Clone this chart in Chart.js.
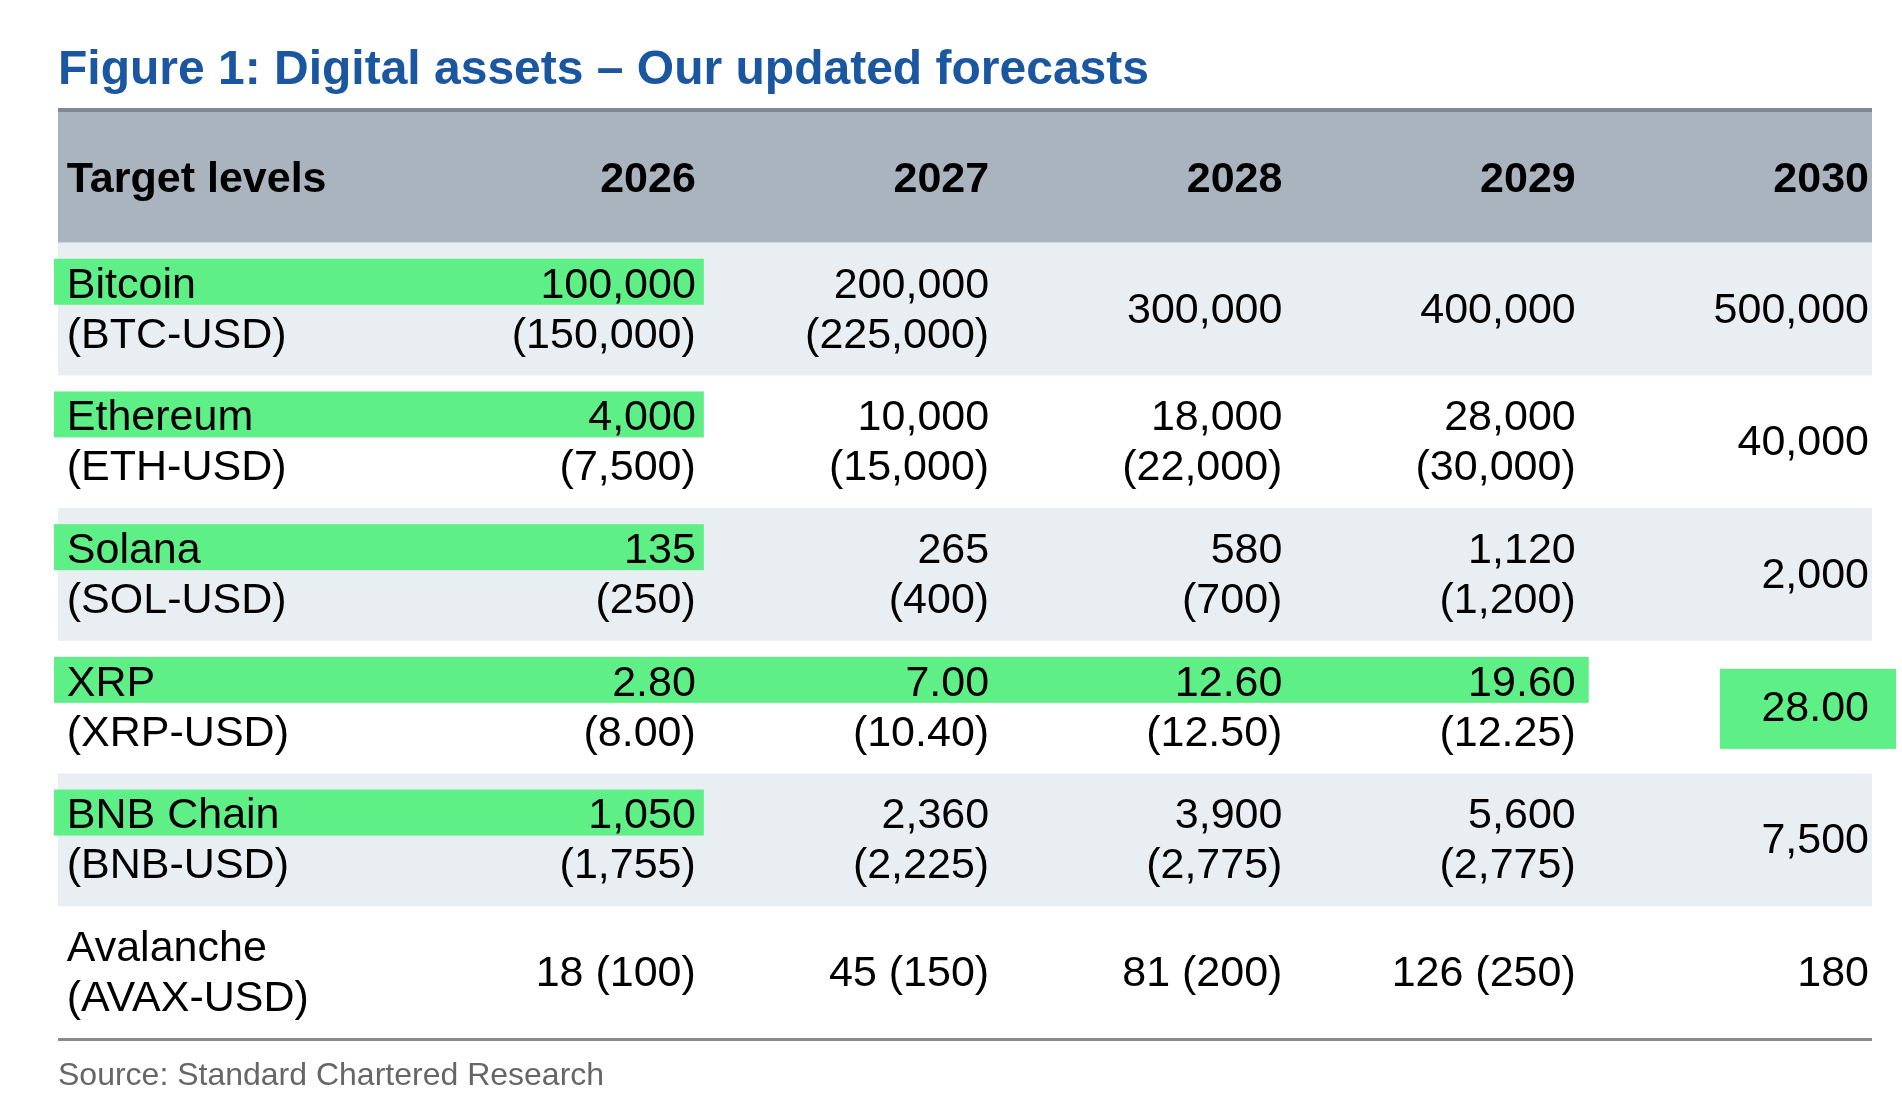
<!DOCTYPE html>
<html><head><meta charset="utf-8">
<script src="https://cdn.jsdelivr.net/npm/chart.js@4/dist/chart.umd.min.js"></script>
<style>html,body{margin:0;padding:0;background:#fff}#wrap{width:1902px;height:1104px}</style>
</head><body><div id="wrap"><canvas id="c"></canvas></div>
<script>
const title = "Figure 1: Digital assets – Our updated forecasts";
const headerLabel = "Target levels";
const years = ["2026","2027","2028","2029","2030"];
const assets = ["Bitcoin","Ethereum","Solana","XRP","BNB Chain","Avalanche"];
const tickers = ["(BTC-USD)","(ETH-USD)","(SOL-USD)","(XRP-USD)","(BNB-USD)","(AVAX-USD)"];
const targets = [
  ["100,000","200,000","300,000","400,000","500,000"],
  ["4,000","10,000","18,000","28,000","40,000"],
  ["135","265","580","1,120","2,000"],
  ["2.80","7.00","12.60","19.60","28.00"],
  ["1,050","2,360","3,900","5,600","7,500"],
  ["18","45","81","126","180"]
];
const previous = [
  ["(150,000)","(225,000)",null,null,null],
  ["(7,500)","(15,000)","(22,000)","(30,000)",null],
  ["(250)","(400)","(700)","(1,200)",null],
  ["(8.00)","(10.40)","(12.50)","(12.25)",null],
  ["(1,755)","(2,225)","(2,775)","(2,775)",null],
  ["(100)","(150)","(200)","(250)",null]
];
const inlineRows = ["Avalanche"];
const highlightFirstLine = { "Bitcoin":1, "Ethereum":1, "Solana":1, "XRP":4, "BNB Chain":1 };
const highlightBox = { "XRP":[4] };
const source = "Source: Standard Chartered Research";

const FONT = "'Liberation Sans', Arial, sans-serif";
const tablePlugin = {
  id:'table',
  beforeDatasetsDraw(chart){
    const ctx = chart.ctx, x = chart.scales.x, y = chart.scales.y, a = chart.chartArea;
    const L = a.left, R = a.right;
    const rowH = Math.abs(y.getPixelForValue(1)-y.getPixelForValue(0));
    ctx.save();
    ctx.fillStyle = '#1b56a0'; ctx.font = 'bold 48px '+FONT; ctx.textBaseline='alphabetic'; ctx.textAlign='left';
    ctx.fillText(title, L, 84);
    const hTop = y.getPixelForValue(-1.5), hBot = y.getPixelForValue(-0.5);
    ctx.fillStyle = '#a9b4be'; ctx.fillRect(L, hTop, R-L, hBot-hTop);
    ctx.fillStyle = '#7d8993'; ctx.fillRect(L, hTop-2, R-L, 4);
    ctx.fillStyle = '#000'; ctx.font = 'bold 43px '+FONT; ctx.textBaseline='middle';
    const hc = y.getPixelForValue(-1)+4;
    const lx = x.getPixelForValue(-2.155);
    ctx.textAlign='left'; ctx.fillText(headerLabel, lx, hc);
    ctx.textAlign='right';
    years.forEach((yr,i)=>ctx.fillText(yr, x.getPixelForValue(i)-3, hc));
    assets.forEach((name,r)=>{
      const top = y.getPixelForValue(r-0.5);
      if (r%2===0){ ctx.fillStyle='#e8eef2'; ctx.fillRect(L, top, R-L, rowH); }
      const l1 = top+43, l2 = top+93, mid = top+68;
      const hl = highlightFirstLine[name];
      if (hl){
        ctx.fillStyle='#5eef86';
        ctx.fillRect(L-4, top+16, x.getPixelForValue(hl-1)+ (hl>1?10:5) - (L-4), 46);
      }
      (highlightBox[name]||[]).forEach(c=>{
        ctx.fillStyle='#5eef86';
        ctx.fillRect(x.getPixelForValue(c)-152, top+28, 176, 80);
      });
      ctx.fillStyle='#000'; ctx.font='43px '+FONT; ctx.textAlign='left';
      ctx.fillText(name, lx, l1); ctx.fillText(tickers[r], lx, l2);
      ctx.textAlign='right';
      targets[r].forEach((t,c)=>{
        const px = x.getPixelForValue(c)-3, p = previous[r][c];
        if (inlineRows.includes(name)) ctx.fillText(p? t+' '+p : t, px, mid);
        else if (p){ ctx.fillText(t, px, l1); ctx.fillText(p, px, l2); }
        else ctx.fillText(t, px, mid);
      });
    });
    const bot = y.getPixelForValue(assets.length-0.5);
    ctx.fillStyle='#8a8a8a'; ctx.fillRect(L, bot-1, R-L, 3);
    ctx.fillStyle='#666'; ctx.font='32px '+FONT; ctx.textAlign='left'; ctx.textBaseline='alphabetic';
    ctx.fillText(source, L, bot+46);
    ctx.restore();
  }
};

new Chart(document.getElementById('c'), {
  type:'scatter',
  data:{datasets:[{data:[],pointRadius:0}]},
  options:{
    responsive:true, maintainAspectRatio:false, animation:false,
    layout:{padding:{left:58,right:30,top:110,bottom:65}},
    plugins:{legend:{display:false},tooltip:{enabled:false}},
    scales:{
      x:{type:'linear',display:false,min:-2.185,max:4.0},
      y:{type:'linear',display:false,reverse:true,min:-1.5,max:assets.length-0.5}
    }
  },
  plugins:[tablePlugin]
});
</script></body></html>
